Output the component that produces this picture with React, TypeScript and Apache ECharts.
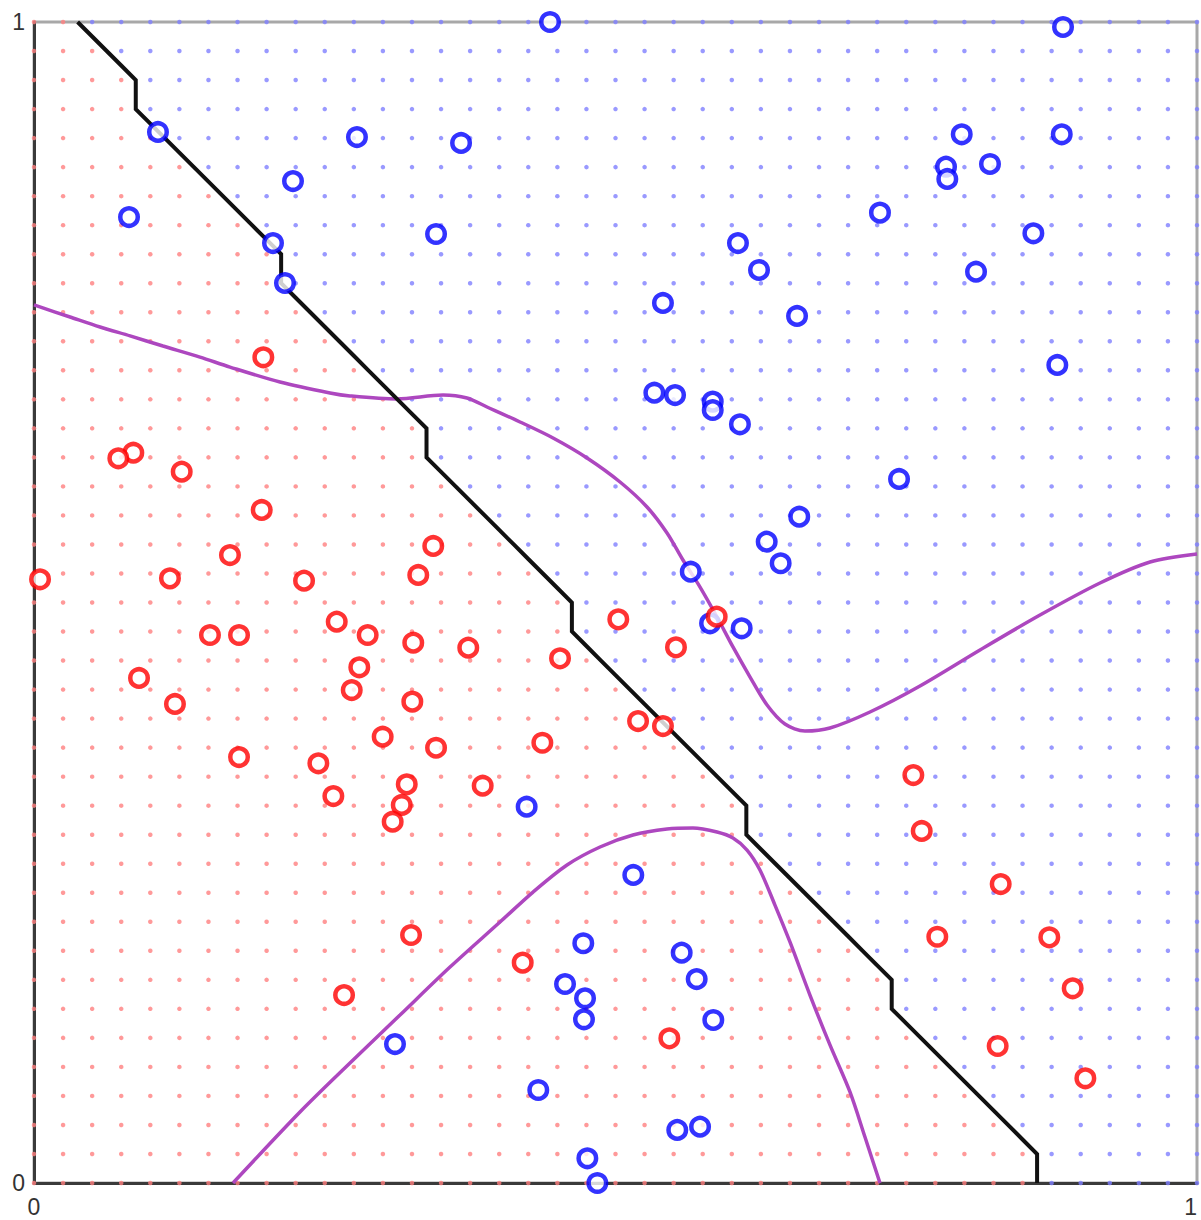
import { useEffect, useRef } from "react";
import * as echarts from "echarts";

// Prediction grid: 41 x 41 points spanning the unit square.
const GRID_STEPS = 40;

// For each grid column (left to right), how many rows from the bottom the
// linear classifier assigns to the red class.
const redRowsPerColumn = [
  41, 41, 40, 39, 37, 36, 35, 34, 33, 31,
  30, 29, 28, 27, 25, 24, 23, 22, 21, 19,
  18, 17, 16, 15, 14, 12, 11, 10, 9, 8,
  6, 5, 4, 3, 2, 0, 0, 0, 0, 0,
  0,
];

// Training observations, class "blue".
const bluePoints: [number, number][] = [
  [0.4437, 1.0], [0.8848, 0.9957], [0.1066, 0.9053], [0.2777, 0.9009],
  [0.3672, 0.8958], [0.7977, 0.9033], [0.8837, 0.9033], [0.2227, 0.863],
  [0.7842, 0.8754], [0.7853, 0.8648], [0.822, 0.8777], [0.0817, 0.832],
  [0.7274, 0.8358], [0.2055, 0.8096], [0.3457, 0.8174], [0.6053, 0.8096],
  [0.8593, 0.818], [0.6234, 0.7864], [0.81, 0.7849], [0.2158, 0.7752],
  [0.5408, 0.758], [0.6561, 0.7468], [0.8799, 0.7046], [0.5334, 0.6807],
  [0.5512, 0.6787], [0.5836, 0.673], [0.5836, 0.6658], [0.607, 0.6535],
  [0.7438, 0.6064], [0.658, 0.5739], [0.63, 0.5524], [0.642, 0.5338],
  [0.5647, 0.5265], [0.5813, 0.4821], [0.6085, 0.4778], [0.4236, 0.3241],
  [0.5153, 0.2653], [0.4723, 0.2065], [0.5569, 0.1984], [0.5698, 0.1757],
  [0.4566, 0.1714], [0.4738, 0.1591], [0.4729, 0.141], [0.5841, 0.1404],
  [0.3104, 0.1197], [0.4336, 0.0801], [0.5531, 0.0457], [0.5727, 0.0485],
  [0.4758, 0.0213], [0.4844, 0.0],
];

// Training observations, class "red".
const redPoints: [number, number][] = [
  [0.1972, 0.7112], [0.0854, 0.629], [0.0725, 0.6242], [0.127, 0.6127],
  [0.1958, 0.5797], [0.3433, 0.5487], [0.1685, 0.5409], [0.0052, 0.52],
  [0.1169, 0.5208], [0.2322, 0.5188], [0.3304, 0.5237], [0.5024, 0.4855],
  [0.587, 0.4878], [0.1513, 0.472], [0.1763, 0.472], [0.2603, 0.4835],
  [0.2869, 0.472], [0.3261, 0.4654], [0.3734, 0.4611], [0.4523, 0.4519],
  [0.552, 0.4614], [0.0903, 0.435], [0.2797, 0.4442], [0.2732, 0.4246],
  [0.1212, 0.4126], [0.3253, 0.4146], [0.5194, 0.3979], [0.5408, 0.3936],
  [0.2998, 0.3844], [0.4371, 0.3792], [0.3457, 0.3749], [0.1763, 0.3669],
  [0.2445, 0.3615], [0.7561, 0.3514], [0.3205, 0.3434], [0.3858, 0.3422],
  [0.2574, 0.3333], [0.3162, 0.3256], [0.3084, 0.3112], [0.7633, 0.3032],
  [0.8312, 0.2575], [0.3242, 0.2136], [0.7767, 0.2121], [0.873, 0.2116],
  [0.4202, 0.1898], [0.2666, 0.1619], [0.8931, 0.1677], [0.5463, 0.1246],
  [0.8286, 0.118], [0.904, 0.0902],
];

// Bayes decision boundary, upper branch (left edge to right edge).
const bayesUpper: [number, number][] = [
  [0.0, 0.7563], [0.031, 0.7459], [0.0568, 0.7373], [0.0826, 0.7296],
  [0.1109, 0.7209], [0.1427, 0.7114], [0.1685, 0.7028], [0.2115, 0.6899],
  [0.2545, 0.6805], [0.2717, 0.6779], [0.3121, 0.6753], [0.3517, 0.6787],
  [0.3723, 0.6761], [0.3895, 0.6684], [0.4179, 0.6555], [0.4463, 0.6417],
  [0.4755, 0.6245], [0.5039, 0.6038], [0.5271, 0.5823], [0.5443, 0.5599],
  [0.558, 0.5366], [0.5727, 0.5133], [0.5873, 0.4875], [0.601, 0.4617],
  [0.6157, 0.4358], [0.6303, 0.4117], [0.6457, 0.3953], [0.6629, 0.3893],
  [0.6844, 0.3919], [0.7188, 0.4057], [0.7618, 0.4281], [0.8134, 0.4591],
  [0.865, 0.4892], [0.9166, 0.5168], [0.9596, 0.5349], [1.0, 0.5418],
];

// Bayes decision boundary, lower branch (bottom edge to bottom edge).
const bayesLower: [number, number][] = [
  [0.1711, 0.0], [0.2287, 0.0612], [0.2717, 0.1034], [0.3147, 0.1447],
  [0.3577, 0.186], [0.4007, 0.2248], [0.4291, 0.2506], [0.4583, 0.2739],
  [0.4867, 0.2894], [0.515, 0.2997], [0.5443, 0.3049], [0.5666, 0.3058],
  [0.5873, 0.3023], [0.601, 0.2972], [0.6131, 0.2868], [0.6242, 0.2696],
  [0.6371, 0.2394], [0.65, 0.2076], [0.6672, 0.1619], [0.6844, 0.1189],
  [0.7016, 0.0784], [0.7145, 0.0396], [0.7274, 0.0],
];

const axisTicks = [0, 1];

// Grid points coloured by predicted class.
function gridPoints() {
  const red: [number, number][] = [];
  const blue: [number, number][] = [];
  for (let i = 0; i <= GRID_STEPS; i++) {
    for (let j = 0; j <= GRID_STEPS; j++) {
      const p: [number, number] = [i / GRID_STEPS, j / GRID_STEPS];
      if (j < redRowsPerColumn[i]) red.push(p);
      else blue.push(p);
    }
  }
  return { red, blue };
}

// Contour (level 0.5) of the class indicator on the grid, traced column by column.
function classBoundary() {
  const n = GRID_STEPS;
  const pts: [number, number][] = [];
  for (let i = 0; i <= n; i++) {
    const a = redRowsPerColumn[i];
    if (a > 0 && a < n + 1) pts.push([i / n, (a - 0.5) / n]);
    if (i < n) {
      const b = redRowsPerColumn[i + 1];
      if (a > b) {
        for (let r = Math.min(a, n + 1) - 1; r >= b; r--) {
          pts.push([(i + 0.5) / n, r / n]);
        }
      }
    }
  }
  return pts;
}

const labelStyle = {
  fontSize: 23,
  color: "#333",
  fontFamily: "Liberation Sans",
};

export default function App() {
  const ref = useRef<HTMLDivElement>(null);

  useEffect(() => {
    if (!ref.current) return;
    const chart = echarts.init(ref.current, undefined, { renderer: "svg" });
    const grid = gridPoints();
    const boundary = classBoundary();

    chart.setOption({
      animation: false,
      backgroundColor: "#ffffff",
      grid: {
        left: 34,
        top: 22,
        right: 4,
        bottom: 37,
        show: true,
        borderColor: "#a8a8a8",
        borderWidth: 3,
        containLabel: false,
        outerBoundsMode: "none",
      },
      xAxis: {
        type: "value",
        min: axisTicks[0],
        max: axisTicks[1],
        interval: 1,
        axisLine: { show: true, onZero: false, lineStyle: { color: "#3a3a3a", width: 3 } },
        axisTick: { show: false },
        splitLine: { show: false },
        axisLabel: {
          ...labelStyle,
          margin: 12,
          showMinLabel: true,
          showMaxLabel: true,
          alignMaxLabel: "right",
        },
      },
      yAxis: {
        type: "value",
        min: axisTicks[0],
        max: axisTicks[1],
        interval: 1,
        axisLine: { show: true, onZero: false, lineStyle: { color: "#3a3a3a", width: 3 } },
        axisTick: { show: false },
        splitLine: { show: false },
        axisLabel: { ...labelStyle, margin: 9, showMinLabel: true, showMaxLabel: true },
      },
      series: [
        {
          type: "scatter",
          data: grid.red,
          symbol: "circle",
          symbolSize: 4.5,
          progressive: 0,
          silent: true,
          z: 1,
          itemStyle: { color: "#ff8080" },
        },
        {
          type: "scatter",
          data: grid.blue,
          symbol: "circle",
          symbolSize: 4.5,
          progressive: 0,
          silent: true,
          z: 1,
          itemStyle: { color: "#8080ff" },
        },
        {
          type: "line",
          data: bayesUpper,
          showSymbol: false,
          symbol: "none",
          smooth: 0.3,
          z: 2,
          lineStyle: { color: "#ad47bf", width: 3.5 },
        },
        {
          type: "line",
          data: bayesLower,
          showSymbol: false,
          symbol: "none",
          smooth: 0.3,
          z: 2,
          lineStyle: { color: "#ad47bf", width: 3.5 },
        },
        {
          type: "line",
          data: boundary,
          showSymbol: false,
          symbol: "none",
          z: 2,
          lineStyle: { color: "#111111", width: 4, join: "miter" },
        },
        {
          type: "scatter",
          data: bluePoints,
          symbol: "circle",
          symbolSize: 17.5,
          z: 3,
          itemStyle: { color: "#ffffff", borderColor: "#0000ff", borderWidth: 4.5 },
        },
        {
          type: "scatter",
          data: redPoints,
          symbol: "circle",
          symbolSize: 17.5,
          z: 4,
          itemStyle: { color: "#ffffff", borderColor: "#ff0000", borderWidth: 4.5 },
        },
      ],
    });

    return () => chart.dispose();
  }, []);

  return (
    <div
      ref={ref}
      style={{ position: "absolute", left: 0, top: 0, width: 1201, height: 1220 }}
    />
  );
}
